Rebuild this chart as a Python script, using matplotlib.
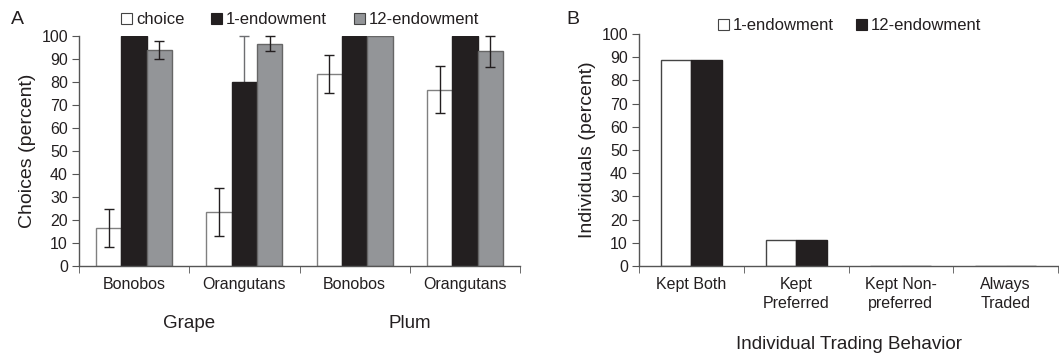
import matplotlib
matplotlib.use("Agg")
import matplotlib.pyplot as plt
import numpy as np
from matplotlib.patches import Patch

plt.rcParams['font.family'] = ['Liberation Sans', 'DejaVu Sans']

# Panel A data
a_groups = ["Bonobos", "Orangutans", "Bonobos", "Orangutans"]
a_fruits = ["Grape", "Plum"]
a_series = ["choice", "1-endowment", "12-endowment"]
choice = [16.7, 23.3, 83.3, 76.7]
choice_err = [8.3, 10.4, 8.3, 10.3]
endow1 = [100, 80, 100, 100]
endow1_err = [0, 20, 0, 0]
endow12 = [93.8, 96.7, 100, 93.3]
endow12_err = [4.0, 3.2, 0, 6.7]

# Panel B data
b_cats = ["Kept Both", "Kept\nPreferred", "Kept Non-\npreferred", "Always\nTraded"]
b_series = ["1-endowment", "12-endowment"]
b_endow1 = [88.9, 11.1, 0, 0]
b_endow12 = [88.9, 11.1, 0, 0]

W, H = 1059, 353
fig = plt.figure(figsize=(W/100, H/100), dpi=100)

axcol = '#555555'
txtcol = '#231f20'
white_c, black_c, grey_c = '#ffffff', '#231f20', '#939598'
edge_light = '#808080'

def style(ax, ylab):
    for s in ['top', 'right']:
        ax.spines[s].set_visible(False)
    for s in ['left', 'bottom']:
        ax.spines[s].set_color(axcol)
        ax.spines[s].set_linewidth(1.0)
    ax.set_ylim(0, 100)
    ax.set_yticks(range(0, 101, 10))
    ax.tick_params(axis='y', direction='out', length=5, color=axcol, labelsize=11.5, labelcolor=txtcol, pad=3)
    ax.set_xlim(-0.5, 3.5)
    ax.set_xticks([-0.5, 0.5, 1.5, 2.5, 3.5], minor=True)
    ax.tick_params(axis='x', which='minor', direction='out', length=5, color=axcol)
    ax.tick_params(axis='x', which='major', length=0, labelsize=11.5, labelcolor=txtcol, pad=8)
    ax.set_ylabel(ylab, fontsize=14, color=txtcol, labelpad=4)

# Panel A
axA = fig.add_axes([79/W, 1-266/H, 441/W, 230/H])
x = np.arange(4)
bw = 0.23
ekw = dict(ecolor='#231f20', elinewidth=1.0, capsize=3.5, capthick=1.0, clip_on=False)
axA.bar(x - bw, choice, bw, color=white_c, edgecolor=edge_light, linewidth=1.0, zorder=2)
axA.bar(x, endow1, bw, color=black_c, edgecolor=black_c, linewidth=1.0, zorder=2)
axA.bar(x + bw, endow12, bw, color=grey_c, edgecolor='#666666', linewidth=1.0, zorder=2)
axA.errorbar(x - bw, choice, yerr=choice_err, fmt='none', zorder=3, **ekw)
m1 = np.array(endow1_err) > 0
axA.errorbar(x[m1], np.array(endow1)[m1], yerr=np.array(endow1_err)[m1], fmt='none', zorder=1.5,
             ecolor='#6d6e71', elinewidth=1.0, capsize=3.5, capthick=1.0, clip_on=False)
m12 = np.array(endow12_err) > 0
axA.errorbar(x[m12] + bw, np.array(endow12)[m12], yerr=np.array(endow12_err)[m12], fmt='none', zorder=3, **ekw)
style(axA, "Choices (percent)")
axA.set_xticks(x)
axA.set_xticklabels(a_groups)
for i, fr in enumerate(a_fruits):
    axA.text(0.5 + 2*i, -0.25, fr, transform=axA.get_xaxis_transform(), ha='center', va='center',
             fontsize=13.5, color=txtcol)

legA = fig.legend(handles=[Patch(facecolor=white_c, edgecolor='#444444', linewidth=0.8),
                           Patch(facecolor=black_c, edgecolor=black_c, linewidth=0.8),
                           Patch(facecolor=grey_c, edgecolor='#444444', linewidth=0.8)],
                  labels=a_series, loc='center left', bbox_to_anchor=(121/W, 1-20/H), ncol=3,
                  frameon=False, handlelength=0.65, handleheight=0.65, handletextpad=0.25,
                  columnspacing=1.6, fontsize=12, borderpad=0, borderaxespad=0)
for t in legA.get_texts():
    t.set_color(txtcol)

# Panel B
axB = fig.add_axes([639/W, 1-266/H, 419/W, 232/H])
bw2 = 0.29
axB.bar(x - bw2/2, b_endow1, bw2, color=white_c, edgecolor='#444444', linewidth=1.0, zorder=2)
axB.bar(x + bw2/2, b_endow12, bw2, color=black_c, edgecolor=black_c, linewidth=1.0, zorder=2)
style(axB, "Individuals (percent)")
axB.set_xticks(x)
axB.set_xticklabels(b_cats, linespacing=1.35)
axB.set_xlabel("Individual Trading Behavior", fontsize=13.5, color=txtcol, labelpad=18)

legB = fig.legend(handles=[Patch(facecolor=white_c, edgecolor='#444444', linewidth=0.8),
                           Patch(facecolor=black_c, edgecolor=black_c, linewidth=0.8)],
                  labels=b_series, loc='center left', bbox_to_anchor=(718/W, 1-26/H), ncol=2,
                  frameon=False, handlelength=0.65, handleheight=0.65, handletextpad=0.25,
                  columnspacing=1.3, fontsize=12, borderpad=0, borderaxespad=0)
for t in legB.get_texts():
    t.set_color(txtcol)

fig.text(11/W, 1-19/H, "A", fontsize=14, color=txtcol, ha='left', va='center')
fig.text(566/W, 1-19/H, "B", fontsize=14, color=txtcol, ha='left', va='center')

fig.savefig("out.png", dpi=100)
